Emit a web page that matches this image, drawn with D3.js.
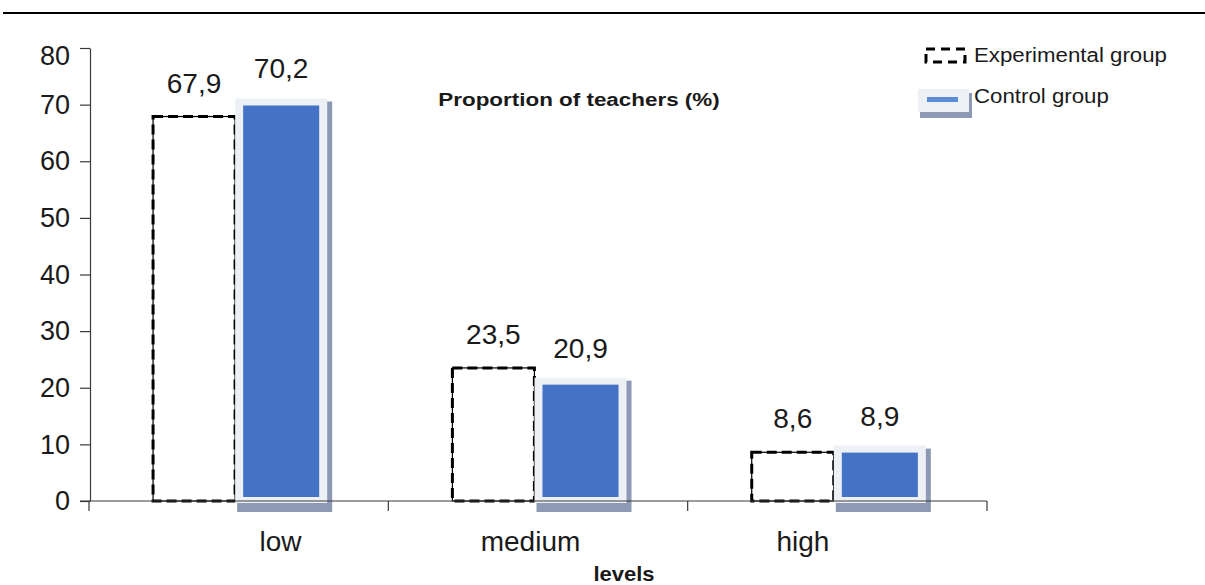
<!DOCTYPE html>
<html>
<head>
<meta charset="utf-8">
<script src="https://cdn.jsdelivr.net/npm/d3@7"></script>
<style>
  body { margin: 0; background: #fff; }
  text { font-family: "Liberation Sans", Arial, Helvetica, sans-serif; fill: #1a1a1a; }
</style>
</head>
<body>
<svg id="chart" width="1205" height="585"></svg>
<script>
// Proportion of teachers per level, by group
const categories = ["low", "medium", "high"];
const experimental = [67.9, 23.5, 8.6];
const control = [70.2, 20.9, 8.9];
const yTicks = [0, 10, 20, 30, 40, 50, 60, 70, 80];
const seriesNames = ["Experimental group", "Control group"];
const chartTitle = "Proportion of teachers (%)";
const axisTitle = "levels";

const W = 1205, H = 585;
const svg = d3.select("#chart");

const x = d3.scaleBand().domain(categories).range([89, 987]).padding(0);
const y = d3.scaleLinear().domain([0, 80]).range([501, 48]);
const bw = x.bandwidth();

const fmt = v => d3.format(".1f")(v).replace(".", ",");

const colors = {
  blue: "#4472c4",
  legendBlue: "#5b8dd6",
  frame: "#edf0f5",
  shadow: "#8e9ab5",
  axis: "#3a3a3a"
};

// rule across the top
svg.append("line")
  .attr("x1", 3).attr("x2", W).attr("y1", 13).attr("y2", 13)
  .attr("stroke", "#000").attr("stroke-width", 2);

// horizontally stretched text helper
function stretchedText(g, str, px, py, size, sx, anchor, weight) {
  return g.append("text")
    .attr("transform", `translate(${px},${py}) scale(${sx},1)`)
    .attr("text-anchor", anchor)
    .attr("font-size", size)
    .attr("font-weight", weight || "normal")
    .text(str);
}

// y axis
const yAxis = svg.append("g")
  .attr("transform", "translate(90,0)")
  .call(d3.axisLeft(y).tickValues(yTicks).tickSize(10).tickSizeOuter(0).tickPadding(10));
yAxis.selectAll("path, line").attr("stroke", colors.axis).attr("stroke-width", 1.2);
yAxis.selectAll("text").attr("font-size", 27).attr("fill", "#1a1a1a")
  .attr("font-family", "'Liberation Sans', Arial, sans-serif");
// the topmost label sits a little below its tick
yAxis.selectAll(".tick").filter(d => d === 80).select("text").attr("dy", "0.62em");

// experimental bars (dashed outline)
const expX = c => x(c) + bw * 0.214;
const expW = bw * 0.274;
const expG = svg.append("g");
expG.selectAll("rect.solid")
  .data(categories).enter().append("rect")
  .attr("x", c => expX(c))
  .attr("y", (c, i) => y(experimental[i]))
  .attr("width", expW)
  .attr("height", (c, i) => y(0) - y(experimental[i]))
  .attr("fill", "#fff").attr("stroke", "#000").attr("stroke-width", 1.2);
expG.selectAll("rect.dash")
  .data(categories).enter().append("rect")
  .attr("x", c => expX(c))
  .attr("y", (c, i) => y(experimental[i]))
  .attr("width", expW)
  .attr("height", (c, i) => y(0) - y(experimental[i]))
  .attr("fill", "none").attr("stroke", "#000").attr("stroke-width", 3)
  .attr("stroke-dasharray", "10,5");

// control bars (blue with light frame and shadow)
const ctlX = c => x(c) + bw * 0.515;
const ctlW = bw * 0.254;
const ctlTop = i => y(control[i]) + 2;
const ctlBottom = y(0) - 4;
const ctlG = svg.append("g");
categories.forEach((c, i) => {
  const bx = ctlX(c), by = ctlTop(i);
  const fx = bx - 8, fy = by - 7, fw = ctlW + 16, fh = ctlBottom - by + 13;
  ctlG.append("rect").attr("x", fx + 2).attr("y", fy + 3)
    .attr("width", fw + 3).attr("height", fh + 6).attr("fill", colors.shadow);
  ctlG.append("rect").attr("x", fx).attr("y", fy)
    .attr("width", fw).attr("height", fh).attr("fill", colors.frame);
  ctlG.append("rect").attr("x", bx).attr("y", by)
    .attr("width", ctlW).attr("height", ctlBottom - by).attr("fill", colors.blue);
});

// x axis: baseline with ticks on the category boundaries
const xAxisG = svg.append("g");
xAxisG.append("line")
  .attr("x1", 80).attr("x2", x.range()[1]).attr("y1", y(0)).attr("y2", y(0))
  .attr("stroke", colors.axis).attr("stroke-width", 1.2);
const bounds = categories.map(c => x(c)).concat([x.range()[1]]);
xAxisG.selectAll("line.tick").data(bounds).enter().append("line")
  .attr("x1", d => d).attr("x2", d => d)
  .attr("y1", y(0)).attr("y2", y(0) + 10)
  .attr("stroke", colors.axis).attr("stroke-width", 1.2);

// category labels
const labelShift = [0.64, 0.475, 0.385];
categories.forEach((c, i) => {
  stretchedText(svg, c, x(c) + bw * labelShift[i], 551, 28, 1.0, "middle");
});

// value labels
categories.forEach((c, i) => {
  stretchedText(svg, fmt(experimental[i]), expX(c) + expW / 2, y(experimental[i]) - 24, 27, 1.04, "middle");
  stretchedText(svg, fmt(control[i]), ctlX(c) + ctlW / 2, y(control[i]) - 25, 27, 1.04, "middle");
});

// titles
stretchedText(svg, chartTitle, 579, 106, 19, 1.18, "middle", "bold");
stretchedText(svg, axisTitle, 624, 581, 20, 1.1, "middle", "bold");

// legend
const lg = svg.append("g");
lg.append("rect").attr("x", 926).attr("y", 49).attr("width", 39).attr("height", 13)
  .attr("fill", "none").attr("stroke", "#000").attr("stroke-width", 3)
  .attr("stroke-dasharray", "9,6");
stretchedText(lg, seriesNames[0], 974, 62, 21, 1.06, "start");
lg.append("rect").attr("x", 920).attr("y", 93).attr("width", 52).attr("height", 25)
  .attr("fill", colors.shadow);
lg.append("rect").attr("x", 918).attr("y", 89).attr("width", 51).attr("height", 23)
  .attr("fill", colors.frame);
lg.append("rect").attr("x", 927).attr("y", 97).attr("width", 31).attr("height", 5)
  .attr("fill", colors.legendBlue);
stretchedText(lg, seriesNames[1], 974, 103, 21, 1.06, "start");
</script>
</body>
</html>
